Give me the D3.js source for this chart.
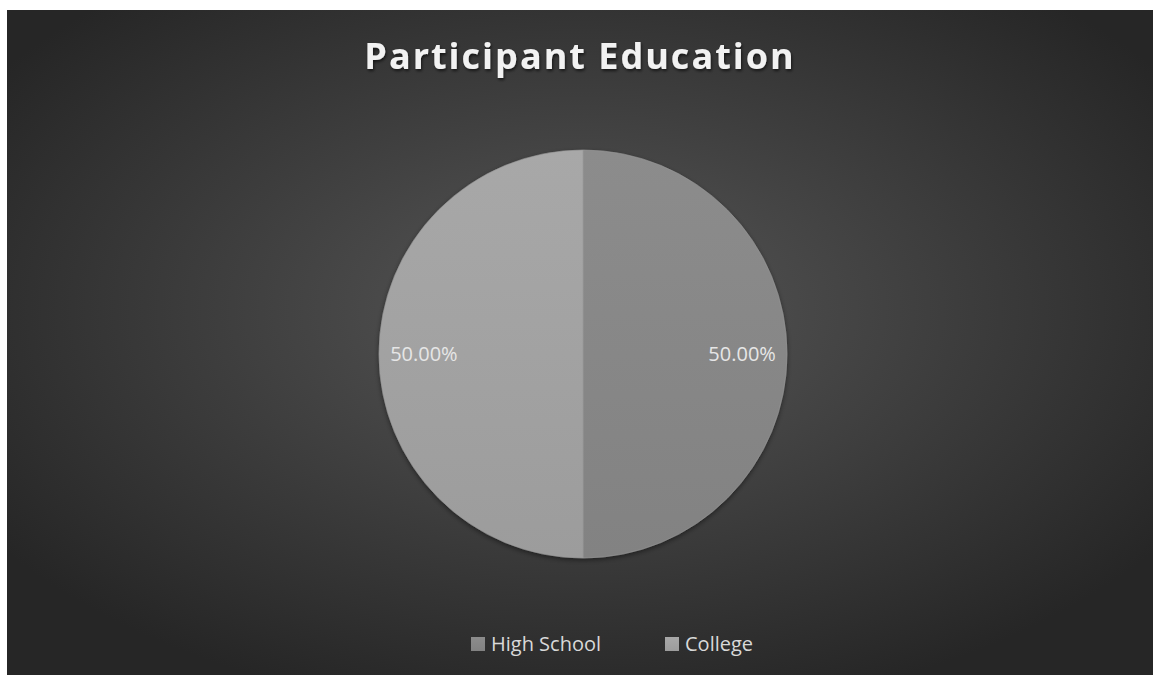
<!DOCTYPE html>
<html>
<head>
<meta charset="utf-8">
<script src="https://cdn.jsdelivr.net/npm/d3@7"></script>
<style>
  body { margin: 0; background: #fff; }
  svg { display: block; }
</style>
</head>
<body>
<div id="chart"></div>
<script>
// Data
const categories = ["High School", "College"];
const shares = [50, 50];
const sliceColors = ["#888888", "#a3a3a3"];
const titleText = "Participant Education";

const width = 1154;
const height = 675;

const svg = d3.select("#chart")
  .append("svg")
  .attr("width", width)
  .attr("height", height);

const defs = svg.append("defs");

// background radial gradient
const bg = defs.append("radialGradient")
  .attr("id", "bg")
  .attr("cx", "50%").attr("cy", "45%").attr("r", "62%");
bg.append("stop").attr("offset", "0%").attr("stop-color", "#575757");
bg.append("stop").attr("offset", "100%").attr("stop-color", "#262626");

const shadow = defs.append("filter").attr("id", "shadow")
  .attr("x", "-20%").attr("y", "-20%").attr("width", "140%").attr("height", "140%");
shadow.append("feDropShadow")
  .attr("dx", 0).attr("dy", 2).attr("stdDeviation", 2.5)
  .attr("flood-color", "#000").attr("flood-opacity", 0.45);

const textShadow = defs.append("filter").attr("id", "tshadow");
textShadow.append("feDropShadow")
  .attr("dx", 1).attr("dy", 2).attr("stdDeviation", 1.5)
  .attr("flood-color", "#000").attr("flood-opacity", 0.6);

sliceColors.forEach((c, i) => {
  const g = defs.append("linearGradient")
    .attr("id", "slice" + i)
    .attr("x1", "0%").attr("y1", "0%").attr("x2", "0%").attr("y2", "100%");
  g.append("stop").attr("offset", "0%").attr("stop-color", d3.color(c).brighter(0.08));
  g.append("stop").attr("offset", "100%").attr("stop-color", d3.color(c).darker(0.12));
});

svg.append("rect")
  .attr("x", 7).attr("y", 10)
  .attr("width", width - 8).attr("height", height - 10)
  .attr("fill", "url(#bg)");

// title
svg.append("text")
  .attr("x", 580).attr("y", 69)
  .attr("text-anchor", "middle")
  .attr("font-family", "Open Sans, sans-serif")
  .attr("font-weight", "bold")
  .attr("font-size", 36)
  .attr("letter-spacing", 2)
  .attr("fill", "#f2f2f2")
  .attr("filter", "url(#tshadow)")
  .text(titleText);

// pie
const cx = 583, cy = 354, radius = 204;

const pie = d3.pie().sort(null).value(d => d);
const arc = d3.arc().innerRadius(0).outerRadius(radius);
const labelArc = d3.arc().innerRadius(radius * 0.78).outerRadius(radius * 0.78);

const pieG = svg.append("g")
  .attr("transform", `translate(${cx},${cy})`);

const arcs = pie(shares);

pieG.append("g")
  .attr("filter", "url(#shadow)")
  .selectAll("path")
  .data(arcs)
  .enter()
  .append("path")
  .attr("d", arc)
  .attr("fill", (d, i) => "url(#slice" + i + ")")
  .attr("stroke", "#999")
  .attr("stroke-width", 0.6);

pieG.selectAll("text.lbl")
  .data(arcs)
  .enter()
  .append("text")
  .attr("class", "lbl")
  .attr("x", d => labelArc.centroid(d)[0])
  .attr("y", d => labelArc.centroid(d)[1])
  .attr("dy", "0.35em")
  .attr("text-anchor", "middle")
  .attr("font-family", "Open Sans, sans-serif")
  .attr("font-size", 20)
  .attr("fill", "#e6e6e6")
  .text(d => d3.format(".2f")(d.data) + "%");

// legend
const legendX = d3.scalePoint()
  .domain(categories)
  .range([471, 665]);

const legend = svg.append("g")
  .selectAll("g")
  .data(categories)
  .enter()
  .append("g")
  .attr("transform", d => `translate(${legendX(d)},637)`);

legend.append("rect")
  .attr("width", 14).attr("height", 14)
  .attr("fill", (d, i) => "url(#slice" + i + ")");

legend.append("text")
  .attr("x", 20).attr("y", 14)
  .attr("font-family", "Open Sans, sans-serif")
  .attr("font-size", 20)
  .attr("fill", "#d9d9d9")
  .text(d => d);
</script>
</body>
</html>
